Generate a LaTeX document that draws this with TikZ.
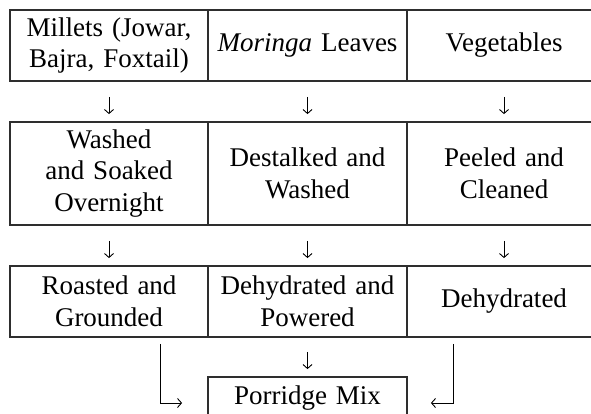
\documentclass[tikz,border=0pt]{standalone}
\usepackage{fontspec}
\setmainfont{Liberation Serif}
\usetikzlibrary{arrows.meta}
\begin{document}
\begin{tikzpicture}[x=1pt,y=-1pt,
  cell/.style={draw=black!82, line width=1.8pt, rectangle, inner sep=0pt,
    align=center, font=\fontsize{27}{31.5}\selectfont, text width=190pt},
  flow/.style={-{Straight Barb[length=4pt,width=9pt]}, line width=0.9pt,
    shorten <=15pt, shorten >=7pt},
  corner/.style={-{Straight Barb[length=4pt,width=9pt]}, line width=0.9pt}
]
\useasboundingbox (0,0) rectangle (591,414);
% row 1
\node[cell, minimum width=198pt, minimum height=71pt] (a1) at (109,45.5) {Millets (Jowar,\\Bajra, Foxtail)};
\node[cell, minimum width=199pt, minimum height=71pt] (b1) at (307.5,45.5) {\textit{Moringa} Leaves};
\node[cell, minimum width=194pt, minimum height=71pt] (c1) at (504,45.5) {Vegetables};
% row 2
\node[cell, minimum width=198pt, minimum height=103pt] (a2) at (109,173.5) {Washed\\and Soaked\\Overnight};
\node[cell, minimum width=199pt, minimum height=103pt] (b2) at (307.5,173.5) {Destalked and\\Washed};
\node[cell, minimum width=194pt, minimum height=103pt] (c2) at (504,173.5) {Peeled and\\Cleaned};
% row 3
\node[cell, minimum width=198pt, minimum height=71pt] (a3) at (109,301.5) {Roasted and\\Grounded};
\node[cell, minimum width=199pt, minimum height=71pt] (b3) at (307.5,301.5) {Dehydrated and\\Powered};
\node[cell, minimum width=194pt, minimum height=71pt] (c3) at (504,301.5) {Dehydrated};
% final
\node[cell, minimum width=199pt, minimum height=42pt] (pm) at (307.5,398) {Porridge Mix};
% arrows
\draw[flow] (a1.south) -- (a2.north);
\draw[flow] (b1.south) -- (b2.north);
\draw[flow] (c1.south) -- (c2.north);
\draw[flow] (a2.south) -- (a3.north);
\draw[flow] (b2.south) -- (b3.north);
\draw[flow] (c2.south) -- (c3.north);
\draw[flow, shorten <=14pt] (b3.south) -- (pm.north);
\draw[corner] ([shift={(51,6)}]a3.south) |- ([shift={(-25,5)}]pm.west);
\draw[corner] ([shift={(-51,6)}]c3.south) |- ([shift={(23,5)}]pm.east);
\end{tikzpicture}
\end{document}
